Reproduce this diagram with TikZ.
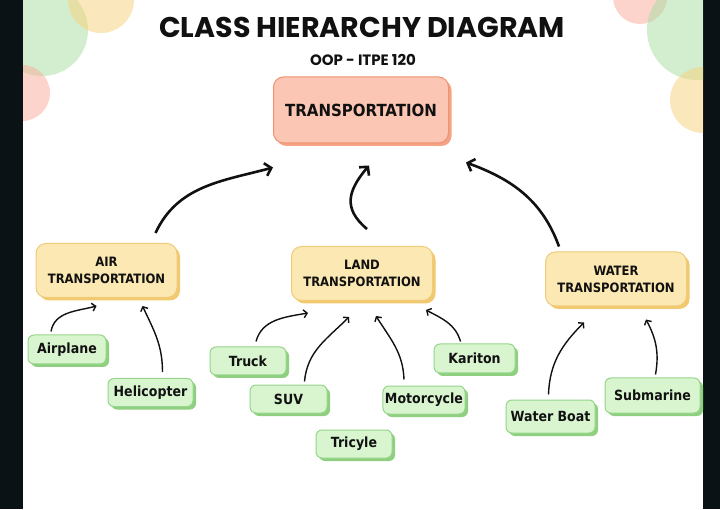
\documentclass[tikz,border=0pt]{standalone}
\usepackage{fontspec}
\newfontfamily\labelfont{DejaVu Sans Condensed}
\newfontfamily\headfont{Poppins}
\usetikzlibrary{shadows}
\usetikzlibrary{arrows.meta}

\definecolor{pagebar}{HTML}{0B1215}
\definecolor{inkcol}{HTML}{111111}
\definecolor{topfill}{HTML}{FBC6B3}
\definecolor{topline}{HTML}{F0916F}
\definecolor{topshade}{HTML}{F5A386}
\definecolor{classfill}{HTML}{FCE8B2}
\definecolor{classline}{HTML}{EFCB7A}
\definecolor{classshade}{HTML}{F2C96E}
\definecolor{leaffill}{HTML}{D9F5D0}
\definecolor{leafline}{HTML}{95D68B}
\definecolor{leafshade}{HTML}{8FCF80}
\definecolor{dotgreen}{HTML}{A8DDA0}
\definecolor{dotyellow}{HTML}{F7D27A}
\definecolor{dotpink}{HTML}{FBAA99}

\begin{document}
\begin{tikzpicture}[x=1pt,y=1pt,
	big arrow/.style={->,>={Straight Barb[length=6pt,width=13pt]},line width=2.6pt,inkcol},
	small arrow/.style={->,>={Straight Barb[length=3.5pt,width=8pt]},line width=1.4pt,inkcol},
	top node/.style={rectangle,rounded corners=10pt,draw=topline,fill=topfill,line width=1pt,
		drop shadow={shadow xshift=3pt,shadow yshift=-3pt,fill=topshade,opacity=1},
		minimum width=175pt,minimum height=66pt,text=inkcol,
		font=\labelfont\bfseries\fontsize{16.7}{20}\selectfont},
	class node/.style={rectangle,rounded corners=10pt,draw=classline,fill=classfill,line width=1pt,
		drop shadow={shadow xshift=3pt,shadow yshift=-3pt,fill=classshade,opacity=1},
		minimum width=141pt,minimum height=54pt,align=center,text=inkcol,
		font=\labelfont\bfseries\fontsize{12.9}{17}\selectfont},
	leaf node/.style={rectangle,rounded corners=6pt,draw=leafline,fill=leaffill,line width=1pt,
		drop shadow={shadow xshift=3pt,shadow yshift=-3pt,fill=leafshade,opacity=1},
		inner xsep=2pt,minimum height=28pt,text=inkcol,
		font=\labelfont\bfseries\fontsize{14}{16}\selectfont}]

	\useasboundingbox (0,0) rectangle (720,509);
	\fill[pagebar] (0,0) rectangle (720,509);
	\fill[white] (23,0) rectangle (703,509);
	\begin{scope}
		\clip (23,0) rectangle (703,509);
		\fill[dotgreen,fill opacity=.5] (42,479) circle (46);
		\fill[dotyellow,fill opacity=.5] (101,509) circle (33);
		\fill[dotpink,fill opacity=.5] (22,416) circle (28);
		\fill[dotpink,fill opacity=.5] (640,512) circle (27);
		\fill[dotgreen,fill opacity=.5] (697,479) circle (50);
		\fill[dotyellow,fill opacity=.5] (703,409) circle (33);
	\end{scope}

	\node[text=inkcol,font=\headfont\bfseries\fontsize{28.5}{32}\selectfont] (title) at (362,482) {CLASS HIERARCHY DIAGRAM};
	\node[text=inkcol,font=\headfont\bfseries\fontsize{15}{17}\selectfont] (course) at (363,449) {OOP - ITPE 120};

	\node[top node] (top) at (361,399) {TRANSPORTATION};

	\node[class node] (air) at (106.5,238.5) {AIR\\TRANSPORTATION};
	\node[class node] (land) at (362,235.5) {LAND\\TRANSPORTATION};
	\node[class node] (water) at (616,230) {WATER\\TRANSPORTATION};

	\node[leaf node,minimum width=78pt,minimum height=29pt] (airplane) at (67,159.5) {Airplane};
	\node[leaf node,minimum width=85pt] (helicopter) at (150.5,116.5) {Helicopter};
	\node[leaf node,minimum width=76pt] (truck) at (248,148) {Truck};
	\node[leaf node,minimum width=77pt] (suv) at (288.5,110) {SUV};
	\node[leaf node,minimum width=76pt] (tricyle) at (354,65) {Tricyle};
	\node[leaf node,minimum width=82pt] (motorcycle) at (424,109) {Motorcycle};
	\node[leaf node,minimum width=81pt,minimum height=29pt] (kariton) at (474.5,150.5) {Kariton};
	\node[leaf node,minimum width=89pt,minimum height=33pt] (waterboat) at (550.5,92.5) {Water Boat};
	\node[leaf node,minimum width=95pt,minimum height=35pt] (submarine) at (652.5,113.5) {Submarine};

	\path[big arrow]
	([xshift=-22pt,yshift=10pt]air.north east) edge[out=65,in=195] ([yshift=-24pt]top.south west)
	([xshift=5pt,yshift=17pt]land.north) edge[out=140,in=230,looseness=1.3] ([xshift=8pt,yshift=-22pt]top.south)
	([xshift=14pt,yshift=5pt]water.north west) edge[out=110,in=-20] ([xshift=17pt,yshift=-19pt]top.south east);

	\path[small arrow]
	([xshift=-16pt,yshift=3pt]airplane.north) edge[out=80,in=195] ([xshift=-10pt,yshift=-8pt]air.south)
	([xshift=12pt,yshift=6pt]helicopter.north) edge[out=90,in=-65] ([xshift=36pt,yshift=-8pt]air.south)
	([xshift=8pt,yshift=5pt]truck.north) edge[out=75,in=190] ([xshift=-54pt,yshift=-12pt]land.south)
	([xshift=16pt,yshift=3pt]suv.north) edge[out=85,in=225] ([xshift=-13pt,yshift=-16pt]land.south)
	([xshift=-20pt,yshift=6pt]motorcycle.north) edge[out=92,in=-58] ([xshift=14pt,yshift=-15pt]land.south)
	([xshift=-14pt,yshift=2pt]kariton.north) edge[out=106,in=-28] ([xshift=-7pt,yshift=-9pt]land.south east)
	([xshift=-2pt,yshift=5pt]waterboat.north) edge[out=88,in=225] ([xshift=-32pt,yshift=-16pt]water.south)
	([xshift=3pt,yshift=3pt]submarine.north) edge[out=80,in=-62] ([xshift=30pt,yshift=-13pt]water.south);
\end{tikzpicture}
\end{document}
